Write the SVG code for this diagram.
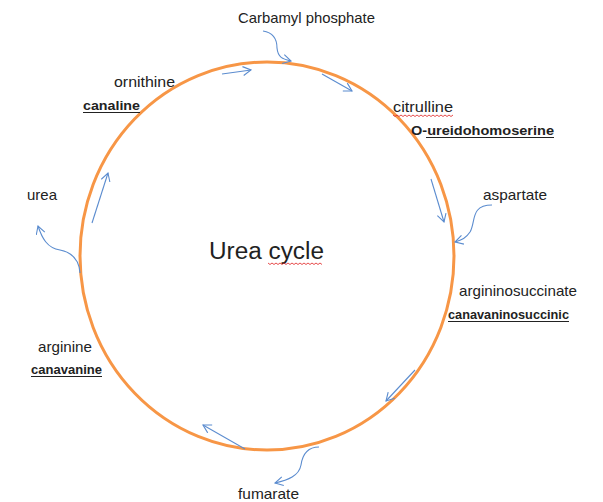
<svg xmlns="http://www.w3.org/2000/svg" width="603" height="502" viewBox="0 0 603 502">
<style>
.t{font-family:"Liberation Sans",Arial,sans-serif;font-size:15px;fill:#222}
.b{font-weight:bold;font-size:13px}
.ul{stroke:#222;stroke-width:1}
.wavy{fill:none;stroke:#e02020;stroke-width:0.8}
.arr{fill:none;stroke:#5b8ccf;stroke-width:1.1;marker-end:url(#ah)}
</style>
<defs>
<marker id="ah" markerUnits="userSpaceOnUse" markerWidth="12" markerHeight="12" refX="9" refY="5" orient="auto">
<path d="M1,0.5 L9,5 L1,9.5" fill="none" stroke="#5b8ccf" stroke-width="1.1"/>
</marker>
</defs>
<rect width="603" height="502" fill="#fff"/>
<g id="cycle">
<ellipse cx="267" cy="256" rx="187" ry="194" fill="none" stroke="#f79646" stroke-width="3"/>
<text class="t" x="209" y="259" style="font-size:23px" textLength="115" lengthAdjust="spacingAndGlyphs">Urea cycle</text>
<path class="wavy" d="M268,263 l2,1.5 l2,-1.5 l2,1.5 l2,-1.5 l2,1.5 l2,-1.5 l2,1.5 l2,-1.5 l2,1.5 l2,-1.5 l2,1.5 l2,-1.5 l2,1.5 l2,-1.5 l2,1.5 l2,-1.5 l2,1.5 l2,-1.5 l2,1.5 l2,-1.5 l2,1.5 l2,-1.5 l2,1.5 l2,-1.5 l2,1.5 l2,-1.5 l2,1.5"/>
</g>
<g id="carbamyl">
<text class="t" x="238" y="23" textLength="137" lengthAdjust="spacingAndGlyphs">Carbamyl phosphate</text>
</g>
<g id="ornithine">
<text class="t" x="114" y="87" textLength="61" lengthAdjust="spacingAndGlyphs">ornithine</text>
<text class="t b" x="83" y="110" textLength="57" lengthAdjust="spacingAndGlyphs">canaline</text>
<line class="ul" x1="83" y1="112.5" x2="140" y2="112.5"/>
</g>
<g id="citrulline">
<text class="t" x="393" y="112" textLength="60" lengthAdjust="spacingAndGlyphs">citrulline</text>
<path class="wavy" d="M393,115 l2,1.5 l2,-1.5 l2,1.5 l2,-1.5 l2,1.5 l2,-1.5 l2,1.5 l2,-1.5 l2,1.5 l2,-1.5 l2,1.5 l2,-1.5 l2,1.5 l2,-1.5 l2,1.5 l2,-1.5 l2,1.5 l2,-1.5 l2,1.5 l2,-1.5 l2,1.5 l2,-1.5 l2,1.5 l2,-1.5 l2,1.5 l2,-1.5 l2,1.5 l2,-1.5 l2,1.5 l2,-1.5"/>
<text class="t b" x="411" y="135" textLength="143" lengthAdjust="spacingAndGlyphs">O-ureidohomoserine</text>
<line class="ul" x1="426" y1="137.5" x2="554" y2="137.5"/>
</g>
<g id="aspartate">
<text class="t" x="483" y="200" textLength="64" lengthAdjust="spacingAndGlyphs">aspartate</text>
</g>
<g id="argininosuccinate">
<text class="t" x="459" y="296" textLength="118" lengthAdjust="spacingAndGlyphs">argininosuccinate</text>
<text class="t b" x="448" y="319" textLength="121" lengthAdjust="spacingAndGlyphs">canavaninosuccinic</text>
<line class="ul" x1="448" y1="321.5" x2="569" y2="321.5"/>
</g>
<g id="fumarate">
<text class="t" x="238" y="499" textLength="61" lengthAdjust="spacingAndGlyphs">fumarate</text>
</g>
<g id="arginine">
<text class="t" x="38" y="352" textLength="54" lengthAdjust="spacingAndGlyphs">arginine</text>
<text class="t b" x="31" y="374" textLength="71" lengthAdjust="spacingAndGlyphs">canavanine</text>
<line class="ul" x1="31" y1="376.5" x2="102" y2="376.5"/>
</g>
<g id="urea">
<text class="t" x="27" y="200" textLength="30" lengthAdjust="spacingAndGlyphs">urea</text>
</g>
<g id="connectors">
<path class="arr" d="M263,31 C276,33 277,42 277,48 C278,58 283,59 291,61"/>
<path class="arr" d="M222,74 L251,70"/>
<path class="arr" d="M322,74 L352,91"/>
<path class="arr" d="M431,179 L444,222"/>
<path class="arr" d="M492,205 C470,205 476,222 470,232 C466,238 462,240 455,242"/>
<path class="arr" d="M415,370 L386,401"/>
<path class="arr" d="M319,447 C305,447 302,458 301,465 C299,476 288,480 275,483"/>
<path class="arr" d="M245,449 L203,425"/>
<path class="arr" d="M80,273 C79,258 70,252 60,250 C47,248 42,238 38,226"/>
<path class="arr" d="M92,223 L108,173"/>
</g>
</svg>
